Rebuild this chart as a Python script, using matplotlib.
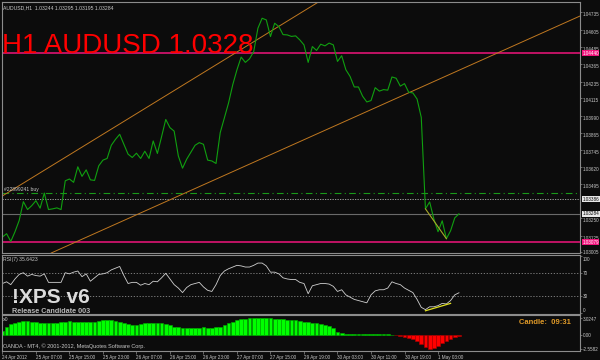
import matplotlib
matplotlib.use("Agg")
import matplotlib.pyplot as plt
import matplotlib.transforms as mtransforms
import numpy as np

plt.rcParams['font.family'] = ['Liberation Sans', 'DejaVu Sans']

# H1 closes, AUDUSD, one value per bar
closes = [1.03115, 1.03139, 1.03083, 1.03153, 1.03234, 1.03370, 1.03313, 1.03341, 1.03377, 1.03323,
          1.03432, 1.03313, 1.03318, 1.03325, 1.03313, 1.03520, 1.03533, 1.03509, 1.03621, 1.03552,
          1.03599, 1.03527, 1.03523, 1.03628, 1.03669, 1.03681, 1.03776, 1.03819, 1.03855, 1.03783,
          1.03712, 1.03688, 1.03719, 1.03681, 1.03733, 1.03681, 1.03807, 1.03717, 1.03838, 1.03962,
          1.03903, 1.03878, 1.03699, 1.03611, 1.03676, 1.03726, 1.03776, 1.03795, 1.03783, 1.03669,
          1.03663, 1.03645, 1.03867, 1.03974, 1.04082, 1.04213, 1.04320, 1.04411, 1.04373, 1.04399,
          1.04451, 1.04619, 1.04691, 1.04679, 1.04559, 1.04655, 1.04631, 1.04573, 1.04571, 1.04560,
          1.04564, 1.04535, 1.04499, 1.04373, 1.04487, 1.04459, 1.04504, 1.04492, 1.04512, 1.04499,
          1.04380, 1.04421, 1.04320, 1.04272, 1.04196, 1.04196, 1.04129, 1.04088, 1.04098, 1.04191,
          1.04166, 1.04177, 1.04173, 1.04268, 1.04259, 1.04202, 1.04220, 1.04158, 1.04153, 1.04109,
          1.03977, 1.03318, 1.03368, 1.03246, 1.03153, 1.03232, 1.03103, 1.03160, 1.03253, 1.03282]

rsi = [52, 55, 50, 60, 68, 71, 65, 68, 66, 65, 69, 54, 54, 54, 54, 71, 69, 72, 74, 64,
       69, 56, 62, 68, 69, 71, 76, 79, 82, 66, 52, 54, 54, 49, 52, 50, 56, 55, 62, 70,
       60, 50, 44, 36, 45, 50, 52, 54, 46, 40, 38, 50, 66, 74, 78, 81, 84, 83, 81, 81,
       84, 88, 88, 83, 72, 72, 69, 62, 60, 59, 59, 54, 52, 34, 48, 50, 52, 52, 51, 47,
       38, 41, 32, 28, 24, 22, 20, 18, 32, 39, 41, 41, 44, 55, 52, 50, 44, 40, 36, 24,
       10, 6, 11, 11, 13, 17, 16, 22, 32, 35.64]

osc = [0.7, 1.5, 1.9, 2.2, 2.4, 2.5, 2.5, 2.4, 2.3, 2.2, 2.1, 2.1, 2.1, 2.2, 2.3, 2.4, 2.45, 2.4, 2.35, 2.3,
       2.3, 2.35, 2.4, 2.45, 2.6, 2.75, 2.7, 2.55, 2.35, 2.1, 2.0, 1.85, 1.85, 1.95, 2.1, 2.1, 2.1, 2.1, 2.1, 2.0,
       1.75, 1.5, 1.35, 1.3, 1.3, 1.3, 1.3, 1.3, 1.4, 1.3, 1.3, 1.35, 1.5, 1.8, 2.1, 2.4, 2.6, 2.8, 2.9, 2.95,
       3.0, 3.0, 3.02, 3.0, 2.95, 2.9, 2.85, 2.8, 2.75, 2.7, 2.6, 2.5, 2.4, 2.3, 2.2, 2.1, 1.95, 1.8, 1.6, 1.3,
       0.6, 0.3, 0.15, 0.12, 0.1, 0.1, 0.1, 0.12, 0.12, 0.1, 0.1, 0.1, 0.1, 0.08, -0.08, -0.15, -0.3, -0.45, -0.7, -1.05,
       -1.6, -2.1, -2.56, -2.35, -1.9, -1.45, -1.05, -0.65, -0.35, -0.15]

time_ticks = [0, 8, 16, 24, 32, 40, 48, 56, 64, 72, 80, 88, 96, 104]
time_labels = ["24 Apr 2012", "25 Apr 07:00", "25 Apr 15:00", "25 Apr 23:00", "26 Apr 07:00",
               "26 Apr 15:00", "26 Apr 23:00", "27 Apr 07:00", "27 Apr 15:00", "29 Apr 19:00",
               "30 Apr 03:00", "30 Apr 11:00", "30 Apr 19:00", "1 May 03:00"]

price_ticks = [1.04735, 1.04605, 1.04485, 1.04365, 1.04235, 1.04115, 1.03990, 1.03865,
               1.03745, 1.03620, 1.03495, 1.03250, 1.03125, 1.03005]

# objects on the chart
upper_trend = [(0, 1.03411), (75.4, 1.04807)]
lower_trend = [(47.3, 1.03482), (137.9, 1.04707)]
diverg_price = [(101, 1.03318), (106, 1.03103)]
diverg_rsi = [(101, 4), (107, 17)]
level_hi = 1.04440
level_lo = 1.03079
order_price = 1.03432
dotted_price = 1.03386
bid = 1.03284

bg = '#0c0c0c'
frame = '#8c8c8c'
txt = '#c8c8c8'
small = 3.3

fig = plt.figure(figsize=(6, 3.6), dpi=100, facecolor=bg)

def panel(top, bottom):
    ax = fig.add_axes([2 / 600, 1 - bottom / 360, 578 / 600, (bottom - top) / 360])
    ax.set_facecolor(bg)
    for s in ax.spines.values():
        s.set_color(frame)
        s.set_linewidth(0.8)
    ax.yaxis.tick_right()
    ax.tick_params(axis='y', colors=frame, labelcolor=txt, labelsize=small, length=1.5, width=0.5, pad=0.5)
    ax.set_xticks([])
    ax.set_xlim(-0.1, 137.9)
    return ax

def shift_labels(labels, dy_px):
    off = mtransforms.ScaledTranslation(0, dy_px / 100, fig.dpi_scale_trans)
    for lab in labels:
        lab.set_transform(lab.get_transform() + off)

ax = panel(2, 253)
ax_rsi = panel(255, 314)
ax_osc = panel(315, 351)

# ---- main price chart
x = np.arange(len(closes))
ax.set_ylim(1.03000, 1.04808)
ax.axhline(level_hi, color='#f0147c', lw=1.1)
ax.axhline(level_lo, color='#f0147c', lw=1.1)
ax.axhline(order_price, color='#1a9a1a', lw=0.8, ls=(0, (6, 3, 1, 3)))
ax.axhline(dotted_price, color='#b0b0b0', lw=0.6, ls=(0, (1.5, 1.5)))
ax.axhline(bid, color='#6a6a6a', lw=0.8)
ax.axline(*upper_trend, color='#c07820', lw=0.7)
ax.axline(*lower_trend, color='#c07820', lw=0.7)
ax.plot(x, closes, color='#10a010', lw=0.8)
ax.plot(*zip(*diverg_price), color='#a8a828', lw=0.8)

ax.set_yticks(price_ticks)
ax.set_yticklabels([f"{p:.5f}" for p in price_ticks])
shift_labels(ax.get_yticklabels()[:-1], -2)

trans = mtransforms.blended_transform_factory(ax.transAxes, ax.transData)
for val, face, fc in [(level_hi, '#f0147c', 'white'), (dotted_price, '#e8e8e8', 'black'),
                      (bid, '#e8e8e8', 'black'), (level_lo, '#f0147c', 'white')]:
    ax.text(1.004, val, f"{val:.5f}", transform=trans, fontsize=small, color=fc, va='center', ha='left',
            bbox=dict(boxstyle='square,pad=0.12', fc=face, ec='none'), clip_on=False, zorder=5)

ax.text(0.004, order_price + 0.00006, "#22899241 buy", transform=trans, fontsize=3.6, color=txt, va='bottom')
ax.text(0.002, 0.988, "AUDUSD,H1  1.03244 1.03295 1.03195 1.03284", transform=ax.transAxes,
        fontsize=3.7, color=txt, va='top')
fig.text(2 / 600, 1 - 53 / 360, "H1 AUDUSD 1.0328", fontsize=20, color='#ff0000', va='baseline', ha='left')

# ---- RSI
ax_rsi.set_ylim(-1.7, 102.2)
ax_rsi.axhline(70, color='#8c8c8c', lw=0.6, ls=(0, (1.5, 2)))
ax_rsi.axhline(30, color='#8c8c8c', lw=0.6, ls=(0, (1.5, 2)))
ax_rsi.plot(x, rsi, color='#d0d0d0', lw=0.6)
ax_rsi.plot(*zip(*diverg_rsi), color='#e0e020', lw=0.9)
ax_rsi.set_yticks([100, 70, 30, 0])
ax_rsi.set_yticklabels(["100", "70", "30", "0"])
rl = ax_rsi.get_yticklabels()
shift_labels([rl[0]], -3)
shift_labels([rl[3]], 3)
ax_rsi.text(0.002, 0.96, "RSI(7) 35.6423", transform=ax_rsi.transAxes, fontsize=3.7, color=txt, va='top')
ax_rsi.text(10 / 578, 0.18, "!XPS v6", transform=ax_rsi.transAxes, fontsize=15, fontweight='bold',
            color='#dcdcdc', va='baseline')
ax_rsi.text(10 / 578, 0.02, "Release Candidate 003", transform=ax_rsi.transAxes, fontsize=5.2,
            fontweight='bold', color='#b8b8b8', va='baseline', zorder=6)

# ---- oscillator histogram
ax_osc.set_ylim(-2.85, 3.56)
cols = ['#00ff00' if v >= 0 else '#ff0000' for v in osc]
edges = ['#00b000' if v >= 0 else '#b00000' for v in osc]
ax_osc.bar(x, osc, width=0.9, color=cols, edgecolor=edges, linewidth=0.4)
ax_osc.set_yticks([3.0247, 0.0, -2.5582])
ax_osc.set_yticklabels(["3.0247", "0.00", "-2.5582"])
shift_labels([ax_osc.get_yticklabels()[0]], -1)
ax_osc.text(0.002, 0.95, "x0", transform=ax_osc.transAxes, fontsize=3.7, color=txt, va='top')
ax_osc.text(0.985, 0.9, "Candle:  09:31", transform=ax_osc.transAxes, fontsize=5.5, fontweight='bold',
            color='#e09a28', va='top', ha='right')
ax_osc.text(0.002, 0.05, "OANDA - MT4, \u00a9 2001-2012, MetaQuotes Software Corp.", transform=ax_osc.transAxes,
            fontsize=4.0, color=txt, va='bottom')

ax_osc.set_xticks(time_ticks)
ax_osc.set_xticklabels(time_labels, ha='left')
ax_osc.tick_params(axis='x', colors=frame, labelcolor=txt, labelsize=small, length=2, width=0.5, pad=0.8)

fig.savefig("out.png", dpi=100, facecolor=bg)
